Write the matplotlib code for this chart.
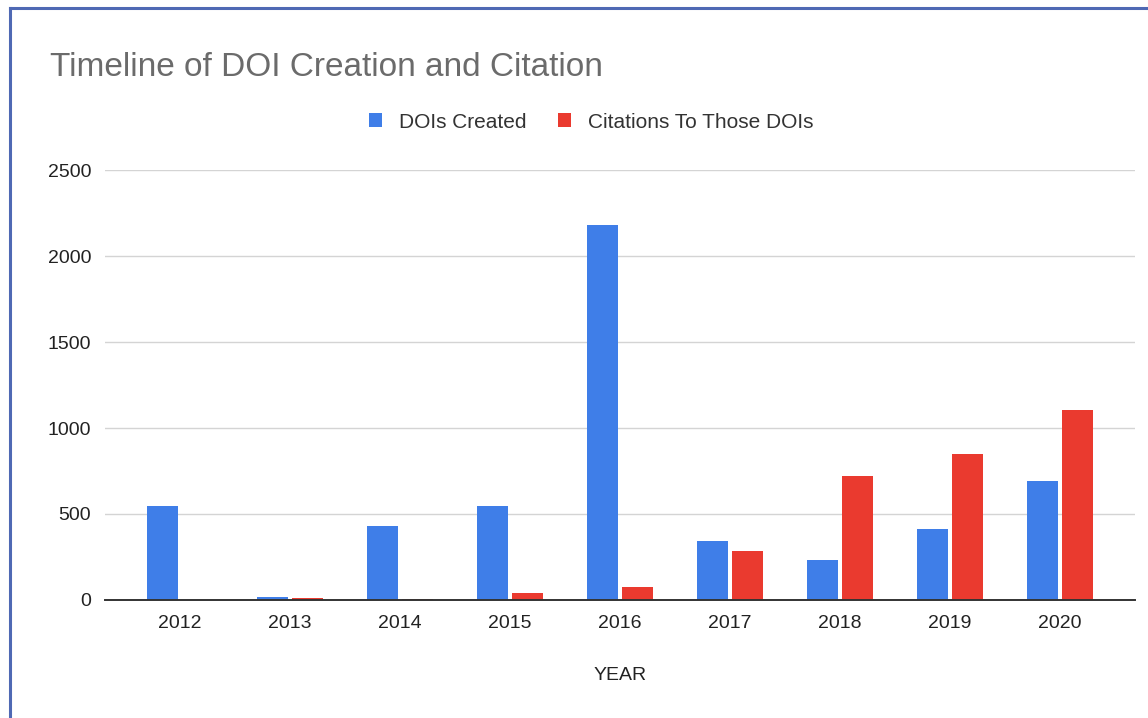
import numpy as np
import matplotlib
matplotlib.use("Agg")
import matplotlib.pyplot as plt
from matplotlib.lines import Line2D

# ── Data ─────────────────────────────────────────────────────────────────────
years = ["2012", "2013", "2014", "2015", "2016", "2017", "2018", "2019", "2020"]
dois_created = [545, 18, 433, 549, 2180, 343, 235, 414, 694]
citations = [0, 10, 8, 39, 77, 285, 722, 851, 1104]
y_ticks = [0, 500, 1000, 1500, 2000, 2500]

BLUE = "#3f7ee8"
RED = "#ea3a2f"

plt.rcParams["font.family"] = ["Liberation Sans", "DejaVu Sans"]

W, H = 1148, 718
fig = plt.figure(figsize=(W / 100, H / 100), dpi=100)
fig.patch.set_facecolor("white")

# plot area in pixels: x 105..1135, y 170..600
ax = fig.add_axes([105 / W, (H - 600) / H, 1030 / W, 430 / H])

x = np.arange(len(years))
bw = 0.28
off = 0.16
ax.bar(x - off, dois_created, width=bw, color=BLUE, label="DOIs Created", zorder=3)
ax.bar(x + off, citations, width=bw, color=RED, label="Citations To Those DOIs", zorder=3)

ax.set_xlim(-0.68, 8.68)
ax.set_ylim(0, 2500)
ax.set_xticks(x)
ax.set_xticklabels(years)
ax.set_yticks(y_ticks)
ax.set_yticklabels([str(v) for v in y_ticks])

ax.tick_params(axis="both", length=0, labelsize=14, colors="#222222")
ax.tick_params(axis="y", pad=10)
ax.tick_params(axis="x", pad=11)

for s in ["top", "right", "left"]:
    ax.spines[s].set_visible(False)
ax.spines["bottom"].set_color("#333333")
ax.spines["bottom"].set_linewidth(1.4)
ax.spines["bottom"].set_zorder(4)

ax.grid(axis="y", color="#d4d4d4", linewidth=1.0, zorder=0)
ax.set_axisbelow(True)

ax.set_xlabel("YEAR", fontsize=14, color="#222222", labelpad=25)

# title and legend, placed in figure pixels
fig.text(50 / W, 1 - 67 / H, "Timeline of DOI Creation and Citation",
         fontsize=24, color="#6b6b6b", va="center", ha="left")

fig.legend(loc="center", bbox_to_anchor=(591 / W, 1 - 122 / H), ncol=2,
           frameon=False, fontsize=15, handlelength=0.65, handleheight=0.65,
           handletextpad=0.8, columnspacing=1.5, labelcolor="#333333")

# blue frame on left and top edges of the screenshot
fig.add_artist(Line2D([9.5 / W, 9.5 / W], [0, 1 - 8 / H], transform=fig.transFigure,
                      color="#4f69b4", linewidth=2.2))
fig.add_artist(Line2D([9.5 / W, 1], [1 - 8 / H, 1 - 8 / H], transform=fig.transFigure,
                      color="#4f69b4", linewidth=2.2))

fig.savefig("out.png", dpi=100)
